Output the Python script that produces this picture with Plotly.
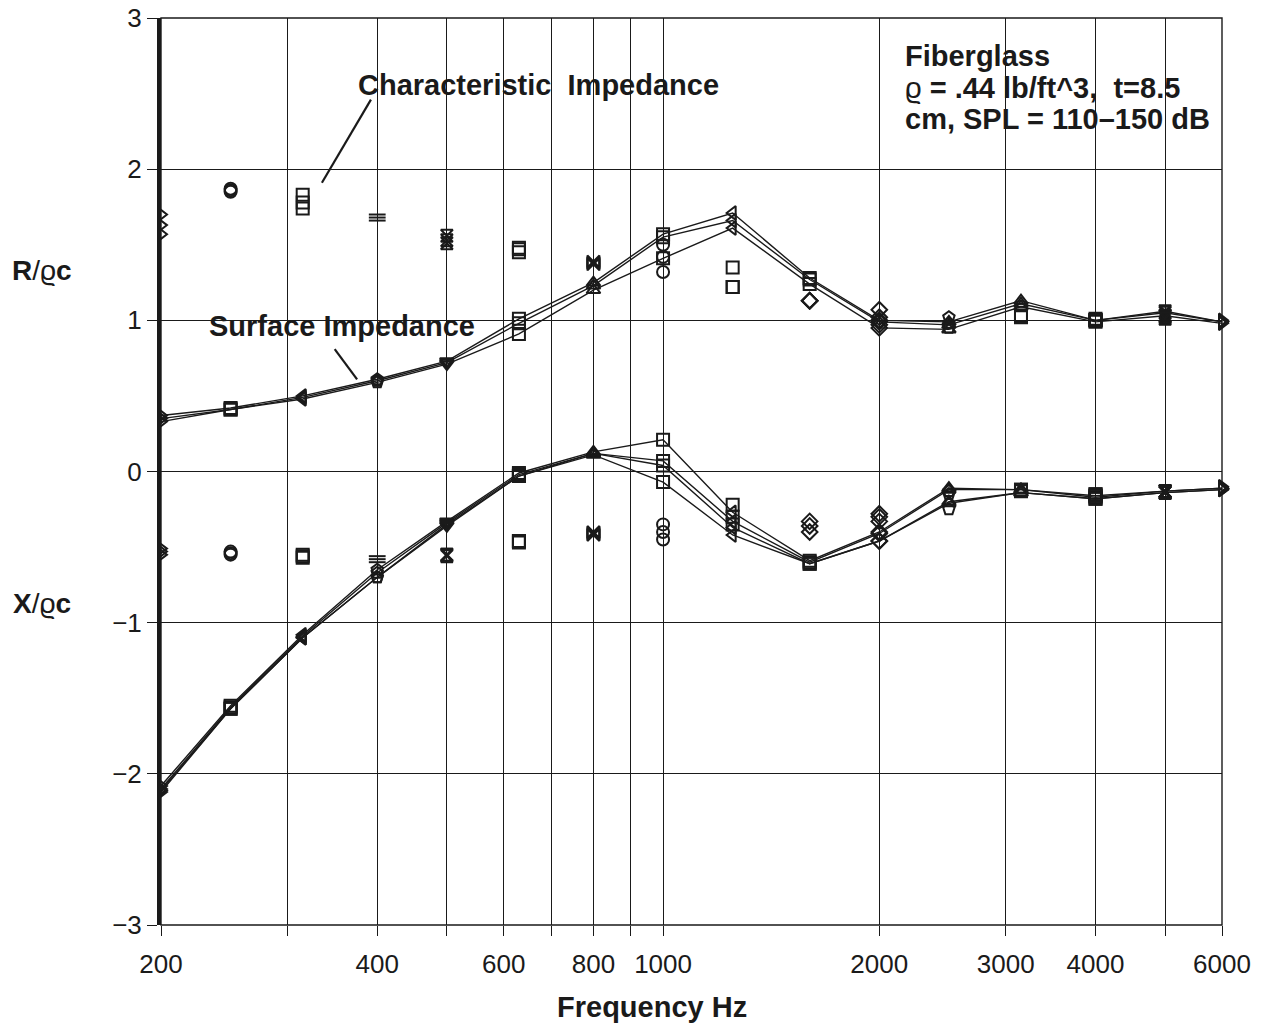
import math
import plotly.graph_objects as go

# ---------------- data ----------------
freqs = [200, 250, 315, 400, 500, 630, 800, 1000, 1250, 1600, 2000, 2500, 3150, 4000, 5000, 6000]

# Surface impedance, resistance R/rho c (connected lines)
surf_R1 = [0.37, 0.42, 0.50, 0.61, 0.73, 1.01, 1.25, 1.57, 1.71, 1.28, 1.00, 0.99, 1.13, 1.00, 1.06, 0.99]
surf_R2 = [0.35, 0.41, 0.49, 0.60, 0.72, 0.98, 1.23, 1.55, 1.66, 1.27, 0.99, 0.97, 1.11, 1.00, 1.05, 0.99]
surf_R3 = [0.33, 0.41, 0.48, 0.59, 0.71, 0.91, 1.20, 1.41, 1.61, 1.24, 0.95, 0.94, 1.09, 0.99, 1.03, 0.98]

# Surface impedance, reactance X/rho c (connected lines)
surf_X1 = [-2.08, -1.55, -1.08, -0.65, -0.33, -0.01, 0.13, 0.21, -0.27, -0.59, -0.40, -0.11, -0.12, -0.16, -0.13, -0.11]
surf_X2 = [-2.10, -1.56, -1.09, -0.67, -0.34, -0.02, 0.12, 0.07, -0.33, -0.60, -0.41, -0.12, -0.12, -0.17, -0.13, -0.11]
surf_X3 = [-2.11, -1.57, -1.10, -0.70, -0.35, -0.03, 0.12, 0.04, -0.37, -0.61, -0.46, -0.20, -0.14, -0.18, -0.14, -0.12]
surf_X4 = [-2.12, -1.57, -1.10, -0.70, -0.36, -0.03, 0.11, -0.07, -0.42, -0.61, -0.46, -0.21, -0.14, -0.18, -0.14, -0.12]

# Characteristic impedance (markers only)
char_R1 = [1.70, 1.87, 1.83, 1.70, 1.56, 1.48, 1.39, 1.50, 1.35, 1.13, 1.07, 1.02, 1.03, 1.01, 1.03, 1.00]
char_R2 = [1.63, 1.86, 1.78, 1.68, 1.53, 1.47, 1.38, 1.42, 1.22, 1.13, 1.02, 0.98, 1.03, 1.00, 1.02, 0.99]
char_R3 = [1.57, 1.85, 1.74, 1.66, 1.51, 1.45, 1.37, 1.32, 1.22, 1.13, 0.97, 0.95, 1.02, 1.00, 1.01, 0.99]

char_X1 = [-0.51, -0.53, -0.55, -0.56, -0.55, -0.46, -0.40, -0.35, -0.22, -0.33, -0.28, -0.13, -0.12, -0.15, -0.13, -0.10]
char_X2 = [-0.53, -0.54, -0.56, -0.58, -0.55, -0.46, -0.41, -0.40, -0.30, -0.36, -0.30, -0.15, -0.12, -0.15, -0.13, -0.11]
char_X3 = [-0.55, -0.55, -0.57, -0.60, -0.56, -0.47, -0.42, -0.45, -0.35, -0.40, -0.33, -0.25, -0.13, -0.16, -0.14, -0.11]

# axis ticks
x_grid_vals = [200, 300, 400, 500, 600, 700, 800, 900, 1000, 2000, 3000, 4000, 5000, 6000]
x_tick_text = ['200', '', '400', '', '600', '', '800', '', '1000', '2000', '3000', '4000', '', '6000']
y_tick_vals = [-3, -2, -1, 0, 1, 2, 3]

# ---------------- styling ----------------
INK = '#1a1a1a'
FONT = 'Liberation Sans, Arial, Helvetica, sans-serif'

surf_symbols = ['triangle-right-open', 'square-open', 'triangle-left-open', 'pentagon-open',
                'triangle-down-open', 'square-open', 'triangle-up-open', 'square-open',
                'triangle-left-open', 'square-open', 'diamond-open', 'triangle-up-open',
                'triangle-up-open', 'square-open', 'hourglass-open', 'triangle-right-open']
char_symbols = ['triangle-right-open', 'circle-open', 'square-open', 'line-ew-open',
                'hourglass-open', 'square-open', 'bowtie-open', 'circle-open',
                'square-open', 'diamond-open', 'diamond-open', 'pentagon-open',
                'square-open', 'square-open', 'hourglass-open', 'triangle-right-open']

fig = go.Figure()

def add_line(y):
    fig.add_trace(go.Scatter(
        x=freqs, y=y, mode='lines+markers', cliponaxis=False,
        line=dict(color=INK, width=1.4),
        marker=dict(symbol=surf_symbols, size=12, color=INK, line=dict(color=INK, width=2)),
        showlegend=False, hoverinfo='x+y'))

def add_points(y):
    fig.add_trace(go.Scatter(
        x=freqs, y=y, mode='markers', cliponaxis=False,
        marker=dict(symbol=char_symbols, size=12, color=INK, line=dict(color=INK, width=2)),
        showlegend=False, hoverinfo='x+y'))

for s in (surf_R1, surf_R2, surf_R3, surf_X1, surf_X2, surf_X3, surf_X4):
    add_line(s)
for s in (char_R1, char_R2, char_R3, char_X1, char_X2, char_X3):
    add_points(s)

# leader lines for the labels
fig.add_shape(type='line', xref='x', yref='y', x0=392, y0=2.46, x1=335, y1=1.91,
              line=dict(color=INK, width=2.2))
fig.add_shape(type='line', xref='x', yref='y', x0=349, y0=0.81, x1=375, y1=0.61,
              line=dict(color=INK, width=2.2))
# frame
fig.add_shape(type='rect', xref='paper', yref='paper', x0=0, y0=0, x1=1, y1=1,
              line=dict(color=INK, width=1.4), layer='above')

def ann(text, x, y, size=28, xanchor='center', xref='paper', yref='paper'):
    fig.add_annotation(text=text, x=x, y=y, xref=xref, yref=yref, showarrow=False,
                       xanchor=xanchor, yanchor='middle',
                       font=dict(family=FONT, size=size, color=INK))

ann('<b>Characteristic  Impedance</b>', math.log10(670), 2.56, size=29, xref='x', yref='y')
ann('<b>Surface Impedance</b>', math.log10(357), 0.96, size=29, xref='x', yref='y')
ann('<b>Fiberglass</b>', 0.699, (925 - 56) / 907, size=29, xanchor='left')
ann('ϱ<b> = .44 lb/ft^3,  t=8.5</b>', 0.699, (925 - 88) / 907, size=29, xanchor='left')
ann('<b>cm, SPL = 110–150 dB</b>', 0.699, (925 - 119) / 907, size=29, xanchor='left')
ann('<b>R</b>/ϱ<b>c</b>', -0.112, 0.722)
ann('<b>X</b>/ϱ<b>c</b>', -0.112, 0.355)
ann('<b>Frequency Hz</b>', 0.463, -0.090, size=29)

lo = math.log10(200) - 1e-6
hi = math.log10(6000) + 1e-6

fig.update_layout(
    width=1271, height=1028,
    margin=dict(l=161, r=49, t=18, b=103),
    paper_bgcolor='white', plot_bgcolor='white',
    font=dict(family=FONT, size=26, color=INK),
    xaxis=dict(type='log', range=[lo, hi], automargin=False,
               tickvals=x_grid_vals, ticktext=x_tick_text,
               showgrid=True, gridcolor=INK, gridwidth=1.4,
               ticks='outside', ticklen=10, tickwidth=1.4, tickcolor=INK,
               ticklabelstandoff=6,
               showline=False, zeroline=False),
    yaxis=dict(range=[-3, 3], tickvals=y_tick_vals, automargin=False,
               showgrid=True, gridcolor=INK, gridwidth=1.4,
               ticks='outside', ticklen=10, tickwidth=1.4, tickcolor=INK,
               showline=True, linecolor=INK, linewidth=4,
               zeroline=False),
)

fig.write_html('out.html')
